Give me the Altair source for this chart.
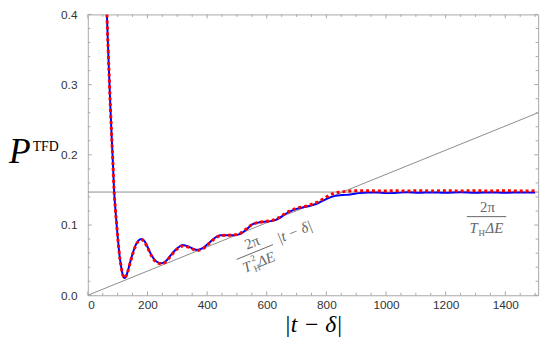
import altair as alt
import pandas as pd

# ---------------- data ----------------
t_vals = [64, 68, 72, 76, 80, 84, 88, 92, 96, 100, 104, 108, 112, 116, 120, 124, 128, 134, 140,
          150, 160, 170, 180, 190, 200, 215, 230, 246, 260, 280, 300, 318, 340, 355, 367, 385,
          410, 430, 445, 467, 490, 510, 530, 550, 577, 600, 620, 643, 660, 677, 700, 732, 760,
          776, 800, 820, 845, 864, 885, 908, 940, 970, 1000, 1030, 1070, 1110, 1150, 1200, 1250,
          1300, 1350, 1400, 1450, 1500]
p_blue = [0.400, 0.352, 0.308, 0.265, 0.226, 0.190, 0.150, 0.125, 0.104, 0.084, 0.066, 0.051,
          0.040, 0.031, 0.026, 0.0245, 0.027, 0.034, 0.044,
          0.059, 0.071, 0.078, 0.080, 0.077, 0.069, 0.056, 0.048, 0.0455, 0.048, 0.058, 0.067,
          0.0715, 0.069, 0.066, 0.0645, 0.067, 0.076, 0.083, 0.0855, 0.0855, 0.0855, 0.087,
          0.093, 0.1005, 0.104, 0.105, 0.106, 0.110, 0.115, 0.119, 0.123, 0.126, 0.129, 0.132,
          0.137, 0.1405, 0.1425, 0.143, 0.144, 0.1455, 0.1465, 0.1465, 0.1455, 0.1458, 0.1466,
          0.146, 0.1465, 0.146, 0.1466, 0.146, 0.1465, 0.146, 0.1465, 0.1462]
p_red = [0.400, 0.352, 0.308, 0.265, 0.226, 0.190, 0.150, 0.125, 0.104, 0.084, 0.066, 0.051,
         0.040, 0.031, 0.026, 0.0245, 0.027, 0.034, 0.043,
         0.058, 0.070, 0.077, 0.079, 0.076, 0.068, 0.055, 0.047, 0.045, 0.047, 0.057, 0.066,
         0.070, 0.068, 0.065, 0.064, 0.066, 0.075, 0.082, 0.085, 0.0855, 0.086, 0.088,
         0.094, 0.1005, 0.104, 0.1055, 0.107, 0.111, 0.116, 0.120, 0.124, 0.127, 0.131, 0.134,
         0.140, 0.1445, 0.147, 0.148, 0.1485, 0.149, 0.149, 0.1485, 0.1485, 0.149, 0.1485,
         0.149, 0.1485, 0.149, 0.1485, 0.149, 0.1485, 0.149, 0.1485, 0.1488]

ref_x = [0, 1510]
diag_y = [0.0, 0.26]
plateau_y = [0.147, 0.147]

x_major = [0, 200, 400, 600, 800, 1000, 1200, 1400]
x_minor = [50, 100, 150, 250, 300, 350, 450, 500, 550, 650, 700, 750, 850, 900, 950,
           1050, 1100, 1150, 1250, 1300, 1350, 1450, 1500]
y_major = [0.0, 0.1, 0.2, 0.3, 0.4]
y_minor = [0.02, 0.04, 0.06, 0.08, 0.12, 0.14, 0.16, 0.18, 0.22, 0.24, 0.26, 0.28,
           0.32, 0.34, 0.36, 0.38]

# annotation anchors (data coords)
rot_anchor_x, rot_anchor_y = [560], [0.0616]
rot_bar_x, rot_bar_y, rot_bar_x2, rot_bar_y2 = [499], [0.0511], [621], [0.0721]
right_anchor_x, right_anchor_y = [1337], [0.112]
right_bar_x, right_bar_x2 = [1271], [1403]

# ---------------- layout ----------------
W, H = 457, 285
GRAY = "#666666"
FRAME = "#a8a8a8"
SERIF = "Liberation Serif"

xs = alt.Scale(domain=[0, 1510], nice=False, zero=False)
ys = alt.Scale(domain=[0, 0.4], nice=False, zero=False)

xaxis = alt.Axis(values=x_major, ticks=False, domain=False, grid=False, format="d",
                 labelFont="Liberation Sans", labelFontSize=12, labelColor="#333333",
                 labelPadding=4, title="|t − δ|", titleFont=SERIF, titleFontSize=24,
                 titleFontStyle="italic", titleFontWeight="normal", titleColor="black",
                 titleY=37, titleBaseline="alphabetic")
yaxis = alt.Axis(values=y_major, ticks=False, domain=False, grid=False, format=".1f",
                 labelFont="Liberation Sans", labelFontSize=12, labelColor="#333333",
                 labelPadding=11, title=None)

X = alt.X("x:Q", scale=xs, axis=xaxis)
Y = alt.Y("y:Q", scale=ys, axis=yaxis)

curve_df = pd.DataFrame({"x": t_vals, "yb": p_blue, "yr": p_red})
ref_df = pd.DataFrame({"x": ref_x, "yd": diag_y, "yp": plateau_y})

diag = alt.Chart(ref_df).mark_line(color="#8c8c8c", strokeWidth=1, clip=True).encode(
    x=X, y=alt.Y("yd:Q", scale=ys, axis=yaxis))
plateau = alt.Chart(ref_df).mark_line(color="#8c8c8c", strokeWidth=1, clip=True).encode(
    x=X, y=alt.Y("yp:Q", scale=ys, axis=yaxis))
blue = alt.Chart(curve_df).mark_line(color="#0000ff", strokeWidth=2, clip=True,
                                     interpolate="monotone").encode(
    x=X, y=alt.Y("yb:Q", scale=ys, axis=yaxis))
red = alt.Chart(curve_df).mark_line(color="#ff0000", strokeWidth=3, strokeDash=[3, 3],
                                    clip=True, interpolate="monotone").encode(
    x=X, y=alt.Y("yr:Q", scale=ys, axis=yaxis))

# inward frame ticks
xmaj = pd.DataFrame({"x": x_major})
xmin = pd.DataFrame({"x": x_minor})
ymaj = pd.DataFrame({"y": y_major})
ymin = pd.DataFrame({"y": y_minor})
tick_layers = []
for df, ln in [(xmaj, 4), (xmin, 2.5)]:
    tick_layers.append(alt.Chart(df).mark_rule(color=FRAME, strokeWidth=1).encode(
        x=X, y=alt.value(H), y2=alt.value(H - ln)))
    tick_layers.append(alt.Chart(df).mark_rule(color=FRAME, strokeWidth=1).encode(
        x=X, y=alt.value(0), y2=alt.value(ln)))
for df, ln in [(ymaj, 4), (ymin, 2.5)]:
    tick_layers.append(alt.Chart(df).mark_rule(color=FRAME, strokeWidth=1).encode(
        y=Y, x=alt.value(0), x2=alt.value(ln)))
    tick_layers.append(alt.Chart(df).mark_rule(color=FRAME, strokeWidth=1).encode(
        y=Y, x=alt.value(W), x2=alt.value(W - ln)))


def label(df, text, dx, dy, size, italic=False, align="center", angle=0):
    return alt.Chart(df).mark_text(
        text=text, dx=dx, dy=dy, fontSize=size, font=SERIF,
        fontStyle="italic" if italic else "normal", align=align,
        baseline="alphabetic", angle=angle, color=GRAY).encode(x=X, y=Y)


ANG = 338
rot_df = pd.DataFrame({"x": rot_anchor_x, "y": rot_anchor_y})
rot_bar = alt.Chart(pd.DataFrame({"x": rot_bar_x, "y": rot_bar_y,
                                  "x2": rot_bar_x2, "y2": rot_bar_y2})).mark_rule(
    color=GRAY, strokeWidth=1).encode(x=X, y=Y, x2="x2:Q", y2="y2:Q")
rot_texts = [
    label(rot_df, "2π", 1, -5, 15, angle=ANG),
    label(rot_df, "T", -13, 16, 15, italic=True, angle=ANG),
    label(rot_df, "2", -4, 8, 9, angle=ANG),
    label(rot_df, "H", -4, 19, 9, angle=ANG),
    label(rot_df, "ΔE", -1, 16, 15, italic=True, align="left", angle=ANG),
    label(rot_df, "|t − δ|", 45, 1, 15, italic=True, angle=ANG),
]

right_df = pd.DataFrame({"x": right_anchor_x, "y": right_anchor_y})
right_bar = alt.Chart(pd.DataFrame({"x": right_bar_x, "x2": right_bar_x2,
                                    "y": right_anchor_y})).mark_rule(
    color=GRAY, strokeWidth=1).encode(x=X, x2="x2:Q", y=Y)
right_texts = [
    label(right_df, "2π", 1, -5, 15),
    label(right_df, "T", -13, 17, 15, italic=True),
    label(right_df, "H", -5, 20, 9),
    label(right_df, "ΔE", -1, 17, 15, italic=True, align="left"),
]

ytitle = [
    alt.Chart(pd.DataFrame({"t": ["P"]})).mark_text(
        font=SERIF, fontSize=36, fontStyle="italic", align="left", baseline="alphabetic",
        color="black").encode(x=alt.value(-80), y=alt.value(151), text="t:N"),
    alt.Chart(pd.DataFrame({"t": ["TFD"]})).mark_text(
        font=SERIF, fontSize=14, align="left", baseline="alphabetic",
        color="black").encode(x=alt.value(-56), y=alt.value(139), text="t:N"),
]

chart = alt.layer(
    diag, plateau, blue, red, *tick_layers, rot_bar, *rot_texts, right_bar, *right_texts,
    *ytitle
).properties(
    width=W, height=H,
    padding={"left": 81, "top": 4, "right": 8, "bottom": 52},
    autosize=alt.AutoSizeParams(type="none"),
).configure_view(stroke=FRAME, strokeWidth=1)

chart.save("out.html", embed_options={"renderer": "svg", "actions": False})
